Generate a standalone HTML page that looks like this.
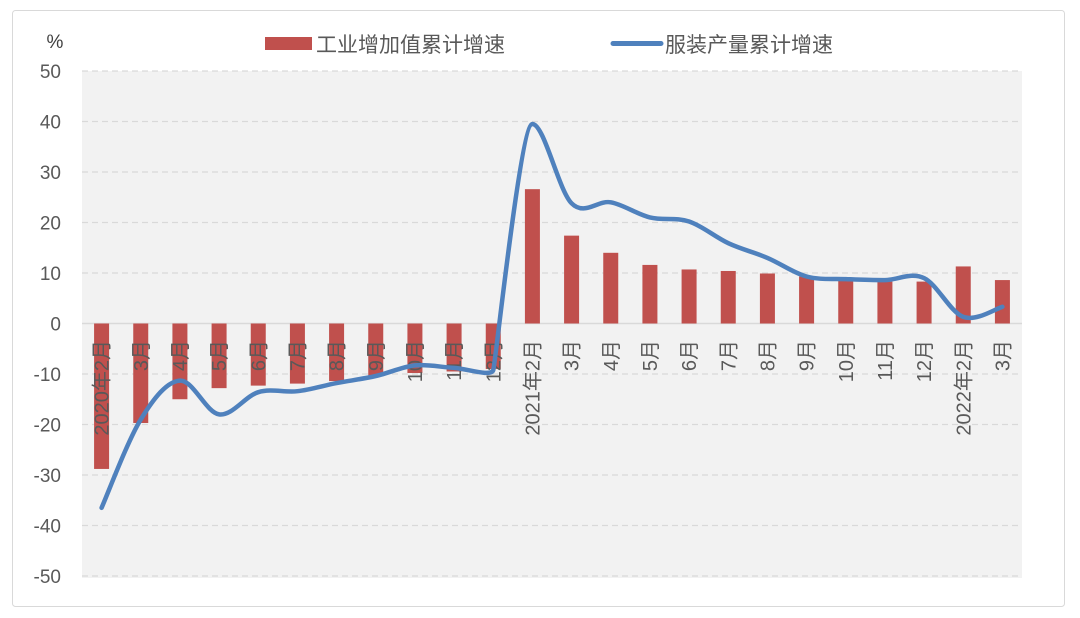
<!DOCTYPE html>
<html><head><meta charset="utf-8"><style>
html,body{margin:0;padding:0;background:#fff;}
svg{display:block;font-family:"Liberation Sans","Noto Sans CJK SC",sans-serif;}
</style></head><body>
<svg id="c" width="1080" height="618" viewBox="0 0 1080 618" xmlns="http://www.w3.org/2000/svg">
<rect x="12.5" y="10.5" width="1052" height="596" rx="3" fill="#fff" stroke="#d9d9d9"/>
<rect x="82" y="71" width="940" height="507" fill="#f2f2f2"/>
<g id="grid"></g>
<g id="bars"></g>
<g id="labels"></g>
<path id="line" fill="none" stroke="#4f81bd" stroke-width="4.5" stroke-linecap="round" stroke-linejoin="round"/>
<text x="55" y="48" font-size="19" fill="#404040" text-anchor="middle">%</text>
<rect x="265" y="37" width="47" height="13" fill="#c0504d"/>
<text x="316" y="52" font-size="21" fill="#595959">工业增加值累计增速</text>
<line x1="613" y1="43.5" x2="661" y2="43.5" stroke="#4f81bd" stroke-width="5" stroke-linecap="round"/>
<text x="665" y="52" font-size="21" fill="#595959">服装产量累计增速</text>
</svg>
<script>
var NS="http://www.w3.org/2000/svg";
function el(t,a,p,txt){var e=document.createElementNS(NS,t);for(var k in a)e.setAttribute(k,a[k]);if(txt!==undefined)e.textContent=txt;document.getElementById(p).appendChild(e);return e;}
var X0=82,W=940,N=24,step=W/N;
function Y(v){return 323.5-v*5.05;}
for(var v=50;v>=-50;v-=10){
  var y=Y(v);
  if(v===0) el("line",{x1:X0,x2:X0+W,y1:y,y2:y,stroke:"#d9d9d9","stroke-width":1.5},"grid");
  else el("line",{x1:X0,x2:X0+W,y1:y,y2:y,stroke:"#d9d9d9","stroke-width":1.3,"stroke-dasharray":"6,4"},"grid");
  el("text",{x:61,y:y+7,"font-size":19,fill:"#595959","text-anchor":"end"},"grid",String(v));
}
var bars=[-28.8,-19.7,-15,-12.8,-12.3,-11.9,-11.4,-10.4,-9.8,-9.5,-9,26.6,17.4,14,11.6,10.7,10.4,9.9,9.3,8.6,8.3,8.3,11.3,8.6];
var line=[-36.5,-19,-11.3,-18,-13.6,-13.4,-11.8,-10.4,-8.3,-8.8,-9.2,39.5,23.8,24,21,20.2,15.9,13,9.3,8.8,8.6,9,1.3,3.3];
var labs=["2020年2月","3月","4月","5月","6月","7月","8月","9月","10月","11月","12月","2021年2月","3月","4月","5月","6月","7月","8月","9月","10月","11月","12月","2022年2月","3月"];
var pts=[];
for(var i=0;i<N;i++){
  var cx=X0+step*(i+0.5);
  var b=bars[i],y0=Y(0),y1=Y(b);
  el("rect",{x:cx-7.5,y:Math.min(y0,y1),width:15,height:Math.abs(y1-y0),fill:"#c0504d"},"bars");
  el("text",{x:0,y:0,"font-size":20,fill:"#595959","text-anchor":"end",transform:"translate("+(cx+7)+",340) rotate(-90)"},"labels",labs[i]);
  pts.push([cx,Y(line[i])]);
}
var d="M"+pts[0][0]+","+pts[0][1];
for(var i=0;i<N-1;i++){
  var p0=pts[Math.max(0,i-1)],p1=pts[i],p2=pts[i+1],p3=pts[Math.min(N-1,i+2)];
  var t1=1/6,t2=1/6;
  if(i==9){t2=0.03;}
  if(i==10){t1=0.03;t2=0.1;}
  if(i==11){t1=0.1;}
  var c1=[p1[0]+(p2[0]-p0[0])*t1,p1[1]+(p2[1]-p0[1])*t1];
  var c2=[p2[0]-(p3[0]-p1[0])*t2,p2[1]-(p3[1]-p1[1])*t2];
  if(i==10){c2=[p2[0]-step*0.3,p2[1]];}
  if(i==11){c1=[p1[0]+step*0.3,p1[1]];}
  d+=" C"+c1[0].toFixed(1)+","+c1[1].toFixed(1)+" "+c2[0].toFixed(1)+","+c2[1].toFixed(1)+" "+p2[0].toFixed(1)+","+p2[1].toFixed(1);
}
document.getElementById("line").setAttribute("d",d);
</script>
</body></html>
